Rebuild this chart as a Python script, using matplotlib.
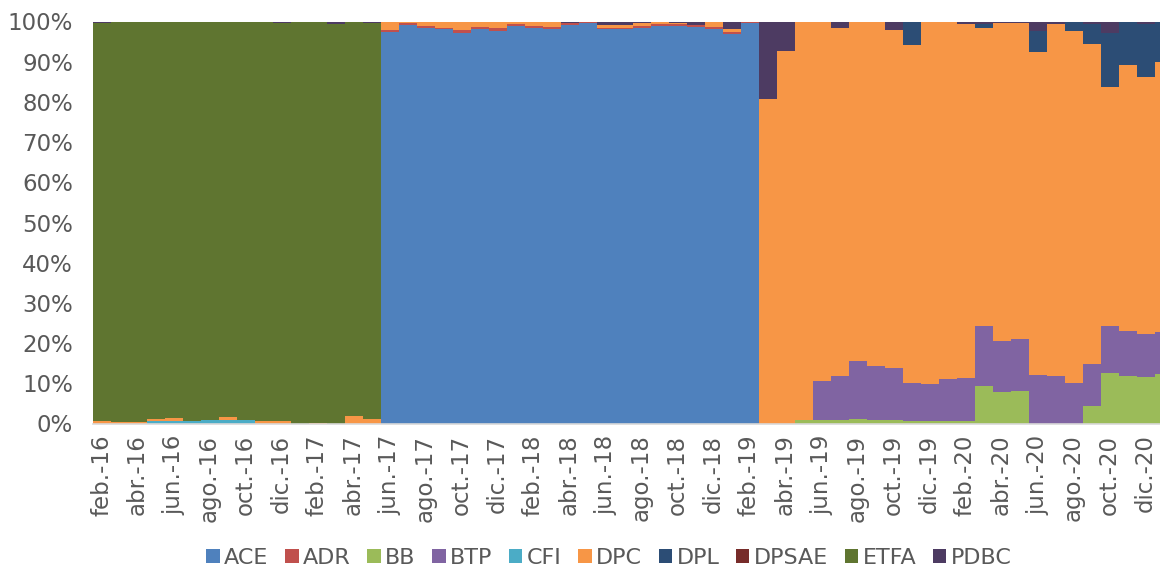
import matplotlib.pyplot as plt
import numpy as np

# months feb-16 .. jan-21 (the last one is cut by the figure edge)
month_names = ['ene.', 'feb.', 'mar.', 'abr.', 'may.', 'jun.',
               'jul.', 'ago.', 'sep.', 'oct.', 'nov.', 'dic.']
months = []
for k in range(60):
    m = (1 + k) % 12
    y = 16 + (1 + k) // 12
    months.append(f"{month_names[m]}-{y}")

# shares in % (one value per month)
ACE = [0] * 16 + [
    97.5, 99.2, 98.3, 98.1, 97.2, 98.1, 97.6, 98.8, 98.5, 98.2,
    99.1, 99.6, 98.1, 98.1, 98.5, 98.8, 98.8, 98.6, 98.1, 96.9, 99.6,
] + [0] * 23
ADR = [0] * 16 + [
    0.5, 0.4, 0.5, 0.4, 0.6, 0.5, 0.7, 0.6, 0.5, 0.5,
    0.6, 0.4, 0.3, 0.3, 0.5, 0.6, 0.5, 0.6, 0.5, 0.4, 0.4,
] + [0] * 23
BB = [0] * 37 + [
    0, 0, 0.8, 0.8, 0.8, 1.1, 0.9, 0.8, 0.6, 0.6, 0.6, 0.6,
    9.3, 7.8, 8.0, 0, 0, 0, 4.4, 12.5, 11.9, 11.5, 12.2,
]
BTP = [0] * 37 + [
    0, 0, 0, 9.8, 11.0, 14.5, 13.5, 13.0, 9.5, 9.2, 10.5, 10.6,
    14.9, 12.6, 13.1, 12.0, 11.9, 10.0, 10.3, 11.7, 11.2, 10.8, 10.5,
]
CFI = [0, 0, 0, 0.6, 0.6, 0.7, 0.8, 0.8, 0.8, 0, 0, 0, 0, 0, 0, 0] + [0] * 44
DPC = [0.6, 0.3, 0.3, 0.4, 0.7, 0, 0, 0.75, 0, 0.6, 0.5, 0, 0.15, 0, 1.8, 1.2] + [
    2.0, 0.4, 1.2, 1.5, 2.2, 1.4, 1.7, 0.6, 1.0, 1.3,
    0, 0, 0.8, 0.8, 0.7, 0.6, 0.3, 0, 1.4, 0.8, 0,
] + [
    80.6, 92.6, 99.2, 89.4, 86.7, 84.4, 85.6, 84.2, 84.1, 90.2, 88.9, 88.1,
    74.1, 79.3, 78.6, 80.4, 87.4, 87.6, 79.6, 59.4, 66.2, 63.8, 67.3,
]
DPL = [0] * 37 + [
    0, 0, 0, 0, 0, 0, 0, 0, 5.8, 0, 0, 0,
    1.1, 0, 0, 5.2, 0, 2.4, 5.0, 13.5, 10.7, 13.4, 10.0,
]
DPSAE = [0] * 60
PDBC = [0.3, 0, 0, 0, 0, 0, 0, 0, 0, 0, 0.4, 0, 0, 0.7, 0, 0.3] + [
    0, 0, 0, 0, 0, 0, 0, 0, 0, 0,
    0.3, 0, 0.8, 0.8, 0.3, 0, 0.4, 0.8, 0, 1.9, 0,
] + [
    19.4, 7.4, 0, 0, 1.5, 0, 0, 2.0, 0, 0, 0, 0.7,
    0.6, 0.3, 0.3, 2.4, 0.7, 0, 0.7, 2.9, 0, 0.5, 0,
]
# ETFA fills the first 16 months
ETFA = [0] * 60
for i in range(16):
    ETFA[i] = round(100 - CFI[i] - DPC[i] - PDBC[i], 2)

series = ['ACE', 'ADR', 'BB', 'BTP', 'CFI', 'DPC', 'DPL', 'DPSAE', 'ETFA', 'PDBC']
values = [ACE, ADR, BB, BTP, CFI, DPC, DPL, DPSAE, ETFA, PDBC]
colors = ['#4F81BD', '#C0504D', '#9BBB59', '#8064A2', '#4BACC6',
          '#F79646', '#2C4D75', '#772C2A', '#5F7530', '#4D3B62']

txt = '#595959'
plt.rcParams['font.family'] = ['DejaVu Sans']

fig = plt.figure(figsize=(11.6, 5.7), dpi=100)
ax = fig.add_axes([92.5 / 1160, 146.5 / 570, 1080 / 1160, 402 / 570])

data = np.array(values, dtype=float)
share = data / data.sum(axis=0)
x = np.arange(len(months))
bottom = np.zeros(len(months))
for name, vals, c in zip(series, share, colors):
    ax.bar(x, vals, width=1.0, bottom=bottom, color=c, label=name,
           linewidth=0)
    bottom += vals

ax.set_xlim(-0.5, len(months) - 0.5)
ax.set_ylim(0, 1)
ax.set_yticks(np.arange(0, 1.01, 0.1))
ax.set_yticklabels([f"{int(round(v * 100))}%" for v in np.arange(0, 1.01, 0.1)])
ax.set_xticks(x[::2])
ax.set_xticklabels(months[::2], rotation=90)
ax.tick_params(axis='both', length=0, labelsize=16.5, colors=txt)
ax.tick_params(axis='y', pad=14)
ax.tick_params(axis='x', pad=8)
for s in ['top', 'right', 'left']:
    ax.spines[s].set_visible(False)
ax.spines['bottom'].set_color('#D9D9D9')
ax.spines['bottom'].set_linewidth(1.2)

fig.legend(loc='center', bbox_to_anchor=(609 / 1160, 12 / 570), ncol=10,
           frameon=False, fontsize=16, labelcolor=txt,
           handlelength=0.6, handleheight=0.6, handletextpad=0.2,
           columnspacing=0.75, borderaxespad=0)

fig.savefig('out.png', dpi=100)
